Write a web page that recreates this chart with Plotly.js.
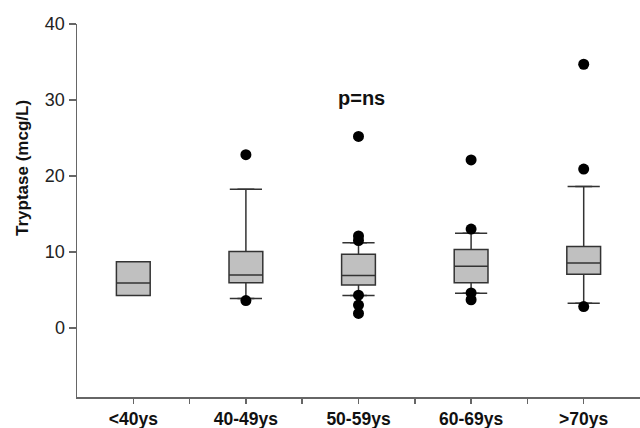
<!DOCTYPE html>
<html><head><meta charset="utf-8">
<script src="https://cdn.plot.ly/plotly-3.0.1.min.js"></script>
<style>html,body{margin:0;padding:0;background:#fff}#chart{width:640px;height:428px}</style>
</head><body><div id="chart"></div>
<script>
const categories = ['<40ys', '40-49ys', '50-59ys', '60-69ys', '>70ys'];
const q1 = [4.25, 5.95, 5.65, 5.95, 7.05];
const median = [5.9, 6.95, 6.9, 8.1, 8.55];
const q3 = [8.7, 10.05, 9.7, 10.3, 10.7];
const lowerFence = [4.25, 3.85, 4.25, 4.55, 3.25];
const upperFence = [8.7, 18.25, 11.2, 12.45, 18.6];
const outlierGroup = [1, 1, 2, 2, 2, 2, 2, 2, 3, 3, 3, 3, 4, 4, 4];
const outlierValue = [22.8, 3.6, 25.2, 12.1, 11.5, 4.3, 3.0, 1.9, 22.1, 13.0, 4.6, 3.7, 34.7, 20.9, 2.8];
const yTicks = [0, 10, 20, 30, 40];

const pos = categories.map((c, i) => i);
const traces = [];
traces.push({
  type: 'box', x: pos, q1: q1, median: median, q3: q3,
  lowerfence: lowerFence, upperfence: upperFence,
  width: 0.3, fillcolor: '#c0c0c0',
  line: {color: '#333333', width: 1.5},
  boxpoints: false, hoverinfo: 'skip', showlegend: false
});
const capX = [], capY = [];
pos.forEach((p, i) => {
  if (upperFence[i] > q3[i]) { capX.push(p); capY.push(upperFence[i]); }
  if (lowerFence[i] < q1[i]) { capX.push(p); capY.push(lowerFence[i]); }
});
traces.push({
  type: 'scatter', mode: 'markers', x: capX, y: capY,
  marker: {symbol: 'line-ew', size: 23, color: '#333333', line: {color: '#333333', width: 1.5}},
  hoverinfo: 'skip', showlegend: false
});
traces.push({
  type: 'scatter', mode: 'markers', x: outlierGroup, y: outlierValue,
  marker: {symbol: 'circle', size: 11, color: '#000000'},
  showlegend: false
});

const tickVals = [], tickText = [];
for (let i = 0; i < categories.length; i++) {
  tickVals.push(i); tickText.push(categories[i]);
  if (i < categories.length - 1) { tickVals.push(i + 0.5); tickText.push(''); }
}

const font = 'Liberation Sans, Arial, sans-serif';
const layout = {
  width: 640, height: 428,
  margin: {l: 77, r: 0, t: 24, b: 31},
  paper_bgcolor: '#ffffff', plot_bgcolor: '#ffffff',
  xaxis: {
    range: [-0.5, 4.5], tickvals: tickVals, ticktext: tickText,
    showline: true, linecolor: '#666666', linewidth: 1.5,
    ticks: 'outside', ticklen: 5, tickwidth: 1.5, tickcolor: '#666666',
    showgrid: false, zeroline: false,
    tickfont: {family: font, size: 17.5, color: '#111111', weight: 'bold'}
  },
  yaxis: {
    range: [-9.1, 40], tickvals: yTicks,
    showline: true, linecolor: '#666666', linewidth: 1.5,
    ticks: 'outside', ticklen: 7, tickwidth: 1.5, tickcolor: '#666666',
    showgrid: false, zeroline: false,
    tickfont: {family: font, size: 18, color: '#222222'}
  },
  annotations: [
    {text: '<b>Tryptase (mcg/L)</b>', xref: 'paper', yref: 'paper', x: -0.097, y: 0.615,
     xanchor: 'center', yanchor: 'middle', textangle: -90, showarrow: false,
     font: {family: font, size: 17, color: '#111111'}},
    {text: '<b>p=ns</b>', xref: 'x', yref: 'y', x: 2.03, y: 30.2,
     xanchor: 'center', yanchor: 'middle', showarrow: false,
     font: {family: font, size: 20, color: '#111111'}}
  ]
};
Plotly.newPlot('chart', traces, layout, {staticPlot: true, displayModeBar: false});
</script>
</body></html>
